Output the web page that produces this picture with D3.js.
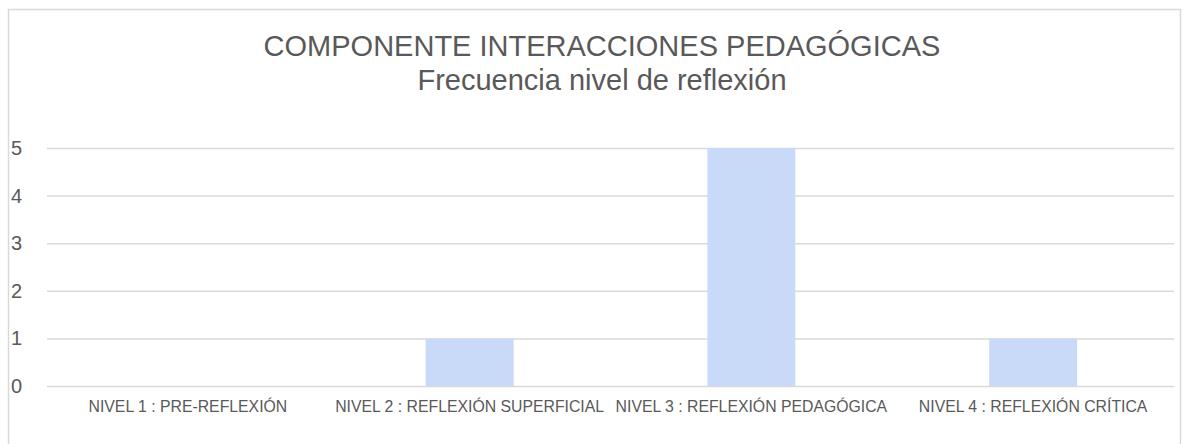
<!DOCTYPE html>
<html>
<head>
<meta charset="utf-8">
<script src="https://cdn.jsdelivr.net/npm/d3@7"></script>
<style>
  body { margin: 0; background: #fff; }
  text { font-family: "Liberation Sans", Arial, sans-serif; fill: #595959; }
</style>
</head>
<body>
<div id="chart"></div>
<script>
// chart data
var categories = [
    "NIVEL 1 : PRE-REFLEXIÓN",
    "NIVEL 2 : REFLEXIÓN SUPERFICIAL",
    "NIVEL 3 : REFLEXIÓN PEDAGÓGICA",
    "NIVEL 4 : REFLEXIÓN CRÍTICA"
];
var frequencies = [0, 1, 5, 1];
var yTicks = [0, 1, 2, 3, 4, 5];
var titleLines = ["COMPONENTE INTERACCIONES PEDAGÓGICAS", "Frecuencia nivel de reflexión"];

var width = 1188;
var height = 444;

var plotLeft = 47;
var plotRight = 1174;
var plotTop = 148;
var plotBottom = 386;

var svg = d3
    .select("#chart")
    .append("svg")
    .attr("width", width)
    .attr("height", height);

// outer frame
svg.append("rect")
    .attr("x", 8.5)
    .attr("y", 9.5)
    .attr("width", 1172)
    .attr("height", 460)
    .attr("fill", "none")
    .attr("stroke", "#d9d9d9")
    .attr("stroke-width", 1.5);

var x = d3.scaleBand()
    .domain(categories)
    .range([plotLeft, plotRight])
    .paddingInner(0.688)
    .paddingOuter(0.344);

var y = d3.scaleLinear()
    .domain([0, 5])
    .range([plotBottom, plotTop]);

// gridlines
svg.append("g")
    .selectAll("line")
    .data(yTicks)
    .enter()
    .append("line")
    .attr("x1", plotLeft)
    .attr("x2", plotRight)
    .attr("y1", function(d) { return y(d) + 0.5; })
    .attr("y2", function(d) { return y(d) + 0.5; })
    .attr("stroke", "#d9d9d9")
    .attr("stroke-width", 1.5);

// y labels
svg.append("g")
    .selectAll("text")
    .data(yTicks)
    .enter()
    .append("text")
    .attr("x", 11)
    .attr("y", function(d) { return y(d); })
    .attr("dy", "0.35em")
    .style("font-size", "20px")
    .text(function(d) { return d; });

// bars
svg.append("g")
    .selectAll("rect")
    .data(frequencies)
    .enter()
    .append("rect")
    .attr("x", function(d, i) { return x(categories[i]); })
    .attr("width", x.bandwidth())
    .attr("y", function(d) { return y(d); })
    .attr("height", function(d) { return y(0) - y(d); })
    .attr("fill", "#c9daf8");

// x labels
svg.append("g")
    .selectAll("text")
    .data(categories)
    .enter()
    .append("text")
    .attr("x", function(d) { return x(d) + x.bandwidth() / 2; })
    .attr("y", 412)
    .attr("text-anchor", "middle")
    .style("font-size", "15.8px")
    .text(function(d) { return d; });

// title
svg.append("g")
    .selectAll("text")
    .data(titleLines)
    .enter()
    .append("text")
    .attr("x", 602)
    .attr("y", function(d, i) { return 56 + i * 34; })
    .attr("text-anchor", "middle")
    .style("font-size", "29px")
    .text(function(d) { return d; });
</script>
</body>
</html>
